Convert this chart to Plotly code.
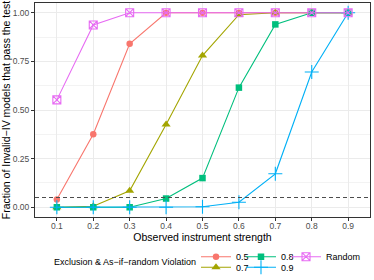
import plotly.graph_objects as go

# ---- data ----
strength = [0.1, 0.2, 0.3, 0.4, 0.5, 0.6, 0.7, 0.8, 0.9]
strength_labels = ["0.1", "0.2", "0.3", "0.4", "0.5", "0.6", "0.7", "0.8", "0.9"]
series_names = ["0.5", "0.7", "0.8", "0.9", "Random"]
frac_05 = [0.04, 0.375, 0.84, 1.0, 1.0, 1.0, 1.0, 1.0, 1.0]
frac_07 = [0.0, 0.005, 0.085, 0.425, 0.78, 0.99, 1.0, 1.0, 1.0]
frac_08 = [0.0, 0.0, 0.0, 0.045, 0.15, 0.615, 0.94, 1.0, 1.0]
frac_09 = [0.0, 0.0, 0.0, 0.0, 0.003, 0.026, 0.172, 0.695, 1.0]
frac_random = [0.552, 0.937, 1.0, 1.0, 1.0, 1.0, 1.0, 1.0, 1.0]
threshold = 0.05
y_ticks = [0.0, 0.25, 0.5, 0.75, 1.0]
y_tick_labels = ["0.00", "0.25", "0.50", "0.75", "1.00"]

values = [frac_05, frac_07, frac_08, frac_09, frac_random]
colors = ["#F8766D", "#A3A500", "#00BF7D", "#00B0F6", "#E76BF3"]
symbols = ["circle", "triangle-up", "square", "cross-thin", "square-x-open"]
sizes = [6.5, 8, 6.5, 10, 8]
legend_ids = ["legend", "legend2", "legend3", "legend4", "legend5"]

FONT = "Liberation Sans"

fig = go.Figure()
for name, vals, col, sym, sz, lg in zip(series_names, values, colors, symbols, sizes, legend_ids):
    outline = 1.1 if sym in ("cross-thin", "square-x-open") else 0
    fig.add_trace(go.Scatter(
        x=strength, y=vals, name=name, mode="lines+markers",
        line=dict(color=col, width=1.1),
        marker=dict(symbol=sym, size=sz, color=col, line=dict(color=col, width=outline)),
        legend=lg,
    ))

fig.add_hline(y=threshold, line=dict(color="#4D4D4D", width=1.1, dash="4px,3px"))

# legend grid: columns (x, paper) and rows (y, paper)
col_x = [0.4806, 0.6149, 0.7493]
row_y = [-0.1855, -0.2350]
legend_cells = {"legend": (0, 0), "legend2": (0, 1), "legend3": (1, 0), "legend4": (1, 1), "legend5": (2, 0)}

legend_layouts = {}
for lid, (c, r) in legend_cells.items():
    legend_layouts[lid] = dict(
        orientation="h", x=col_x[c], xanchor="left", y=row_y[r], yanchor="middle",
        font=dict(size=9, family=FONT, color="#000000"), itemwidth=30,
        bgcolor="rgba(0,0,0,0)", borderwidth=0,
    )

fig.update_layout(
    width=374, height=280,
    margin=dict(l=35, r=4, t=3, b=63, autoexpand=False),
    paper_bgcolor="white", plot_bgcolor="white",
    font=dict(family=FONT, color="#000000"),
    showlegend=True,
    annotations=[dict(text="Exclusion & As\u2212if\u2212random Violation", xref="paper", yref="paper",
                      x=0.4866, y=-0.2103, xanchor="right", yanchor="middle", showarrow=False,
                      font=dict(size=9, family=FONT, color="#000000"))],
    **legend_layouts,
)

fig.update_xaxes(
    range=[0.04, 0.96], tickvals=strength, ticktext=strength_labels,
    showgrid=True, gridcolor="#EBEBEB", gridwidth=1, zeroline=False,
    showline=True, mirror=True, linecolor="#333333", linewidth=1,
    ticks="outside", ticklen=3, tickcolor="#333333", tickwidth=1,
    ticklabelstandoff=-2,
    tickfont=dict(size=8.5, color="#4D4D4D", family=FONT),
    title=dict(text="Observed instrument strength", font=dict(size=10.5, family=FONT, color="#000000"), standoff=0),
)
fig.update_yaxes(
    range=[-0.05, 1.05], tickvals=y_ticks, ticktext=y_tick_labels,
    showgrid=True, gridcolor="#EBEBEB", gridwidth=1, zeroline=False,
    minor=dict(tick0=0.125, dtick=0.25, showgrid=True, gridcolor="#F3F3F3", gridwidth=0.6, ticks=""),
    showline=True, mirror=True, linecolor="#333333", linewidth=1,
    ticks="outside", ticklen=3, tickcolor="#333333", tickwidth=1,
    tickfont=dict(size=8.5, color="#4D4D4D", family=FONT),
    title=dict(text="Fraction of Invalid\u2212IV models that pass the test", font=dict(size=10.5, family=FONT, color="#000000"), standoff=4),
)

fig.write_html("out.html", config={"displayModeBar": False},
               post_script="document.body.style.margin='0';")
